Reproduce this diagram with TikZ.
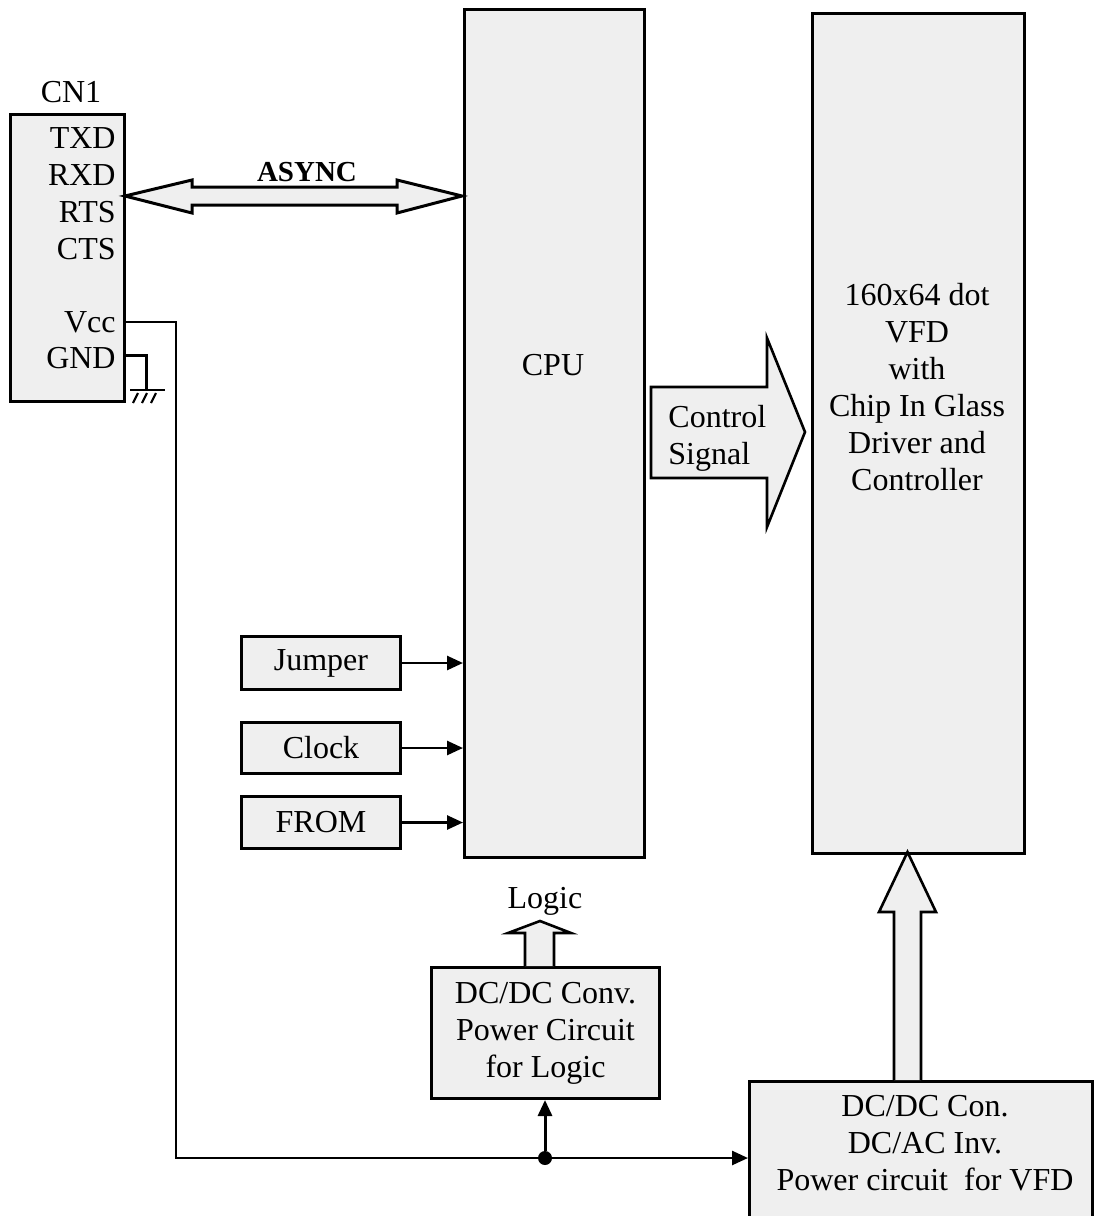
\documentclass[tikz,border=0pt]{standalone}
\usepackage{fontspec}
\setmainfont{Liberation Serif}
\usetikzlibrary{arrows.meta}
\definecolor{boxgray}{RGB}{239,239,239}
\tikzset{
	blk/.style={draw, line width=1.5pt, fill=boxgray, inner sep=0pt, anchor=north west, font=\fontsize{16}{18.5}\selectfont},
	lbl/.style={inner sep=0pt, font=\fontsize{16}{18.5}\selectfont},
	wire/.style={line width=1.1pt},
	sig/.style={line width=1.3pt, -{Triangle[length=8pt,width=7pt]}},
	hollow/.style={draw, line width=1.3pt, fill=boxgray, line join=miter},
}
\begin{document}
\begin{tikzpicture}[x=0.5pt,y=-0.5pt]
		\useasboundingbox (0,0) rectangle (1093,1216);

		% Connector CN1
		\node[blk, minimum width=57pt, minimum height=143.5pt] (cn1) at (9,113) {};
		\node[lbl, anchor=base] (cn1lbl) at (71,102) {CN1};
		\node[lbl, anchor=base east] (txd) at (116,148) {TXD};
		\node[lbl, anchor=base east] (rxd) at (116,185) {RXD};
		\node[lbl, anchor=base east] (rts) at (116,222) {RTS};
		\node[lbl, anchor=base east] (cts) at (116,259) {CTS};
		\node[lbl, anchor=base east] (vcc) at (116,332) {Vcc};
		\node[lbl, anchor=base east] (gndlbl) at (116,368) {GND};

		% CPU and display
		\node[blk, minimum width=90pt, minimum height=424pt] (cpu) at (463,8) {};
		\node[lbl, anchor=base] (cpulbl) at (553,375) {CPU};
		\node[blk, minimum width=106pt, minimum height=420pt] (vfd) at (811,12) {};
		\node[lbl, align=center] (vfdlbl) at (917,387) {160x64 dot\\VFD\\with\\Chip In Glass\\Driver and\\Controller};

		% Inputs to the CPU
		\node[blk, minimum width=79.5pt, minimum height=26.5pt] (jumper) at (240,635) {Jumper};
		\node[blk, minimum width=79.5pt, minimum height=25.5pt] (clock) at (240,721) {Clock};
		\node[blk, minimum width=79.5pt, minimum height=26pt] (from) at (240,795) {FROM};
		\draw[sig] (jumper.east) -- (cpu.west |- jumper.east);
		\draw[sig] (clock.east) -- (cpu.west |- clock.east);
		\draw[sig] (from.east) -- (cpu.west |- from.east);

		% ASYNC bus
		\draw[hollow, line width=1.5pt] (125,196) -- (192,180) -- (192,187) -- (397,187) -- (397,180) -- (462,196)
			-- (397,213) -- (397,205) -- (192,205) -- (192,213) -- cycle;
		\node[lbl, font=\bfseries\fontsize{14.5}{17}\selectfont, anchor=base] (async) at (307,181) {ASYNC};

		% Control signal arrow
		\draw[hollow] (651,387) -- (767,387) -- (767,338) -- (805,432) -- (767,527) -- (767,478) -- (651,478) -- cycle;
		\node[lbl, align=left, anchor=west] (ctrl) at (668,438) {Control\\Signal};

		% Power circuits
		\node[blk, align=center, minimum width=114pt, minimum height=65.5pt] (logicpwr) at (430,966) {DC/DC Conv.\\Power Circuit\\for Logic};
		\node[blk, minimum width=171.5pt, minimum height=75pt] (vfdpwr) at (748,1080) {};
		\node[lbl, align=center] (vfdpwrlbl) at (925,1143) {DC/DC Con.\\DC/AC Inv.\\Power circuit\ \ for VFD};
		\draw[hollow] (525,966) -- (525,933) -- (508,933) -- (540,921) -- (571,933) -- (554,933) -- (554,966);
		\node[lbl, anchor=base] (logiclbl) at (545,908) {Logic};
		\draw[hollow] (894,1080) -- (894,912) -- (879,912) -- (907.5,852) -- (936,912) -- (921,912) -- (921,1080);

		% Vcc and GND wiring
		\node[circle, fill, inner sep=0pt, minimum size=7pt] (junc) at (545,1158) {};
		\coordinate (bend) at (176,1158);
		\draw[wire] (cn1.east |- vcc) -| (bend) -- (junc);
		\draw[sig] (junc) -- (vfdpwr.west |- junc);
		\draw[sig, line width=1.5pt] (junc) -- (junc |- logicpwr.south);
		\coordinate (gndpin) at (123,355);
		\coordinate (gnd) at (146,390);
		\draw[line width=1.5pt] (gndpin) -| (gnd);
		\draw[wire] (130,390) -- (165,390);
		\foreach \x in {133,142,151}
			\draw[wire] (\x,403) -- (\x+5,393);

	\end{tikzpicture}
\end{document}
